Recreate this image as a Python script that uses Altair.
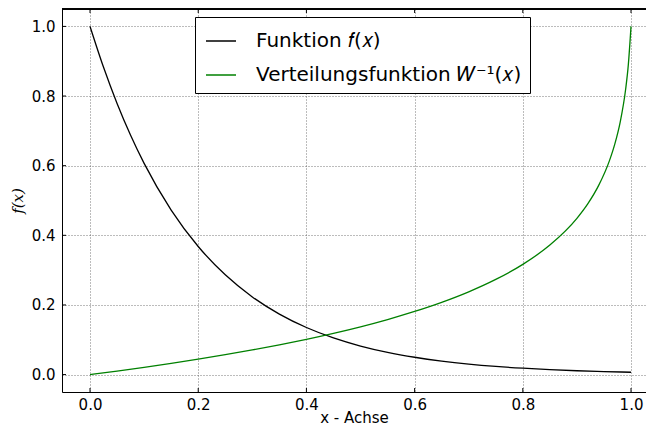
import altair as alt
import pandas as pd

# --- data ---
x_f = [0.0, 0.025, 0.05, 0.075, 0.1, 0.15, 0.2, 0.25, 0.3, 0.35, 0.4, 0.45, 0.5,
       0.55, 0.6, 0.65, 0.7, 0.75, 0.8, 0.85, 0.9, 0.95, 1.0]
y_f = [1.0, 0.8825, 0.7788, 0.6873, 0.6065, 0.4724, 0.3679, 0.2865, 0.2231, 0.1738,
       0.1353, 0.1054, 0.0821, 0.0639, 0.0498, 0.0388, 0.0302, 0.0235, 0.0183,
       0.0143, 0.0111, 0.0087, 0.0067]

x_w = [0.0, 0.05, 0.1, 0.15, 0.2, 0.25, 0.3, 0.35, 0.4, 0.45, 0.5, 0.55, 0.6, 0.65,
       0.7, 0.75, 0.8, 0.85, 0.9, 0.92, 0.94, 0.96, 0.97, 0.98, 0.99, 0.995, 1.0]
y_w = [0.0, 0.0102, 0.0209, 0.0323, 0.0443, 0.0571, 0.0708, 0.0854, 0.1013, 0.1185,
       0.1373, 0.1581, 0.1813, 0.2075, 0.2377, 0.2733, 0.3166, 0.3719, 0.4487,
       0.4902, 0.5426, 0.6138, 0.6619, 0.7253, 0.8188, 0.8895, 1.0]

series_names = ["Funktion 𝑓(𝑥)", "Verteilungsfunktion 𝑊⁻¹(𝑥)"]
series_colors = ["#000000", "#008000"]

x_ticks = [0.0, 0.2, 0.4, 0.6, 0.8, 1.0]
y_ticks = [0.0, 0.2, 0.4, 0.6, 0.8, 1.0]

df = pd.concat([
    pd.DataFrame({"x": x_f, "y": y_f, "s": series_names[0], "o": range(len(x_f))}),
    pd.DataFrame({"x": x_w, "y": y_w, "s": series_names[1], "o": range(len(x_w))}),
])

W, H = 584, 383
xscale = alt.Scale(domain=[-0.0518, 1.0277], nice=False, zero=False)
yscale = alt.Scale(domain=[-0.05, 1.05], nice=False, zero=False)

grid_common = dict(grid=True, gridColor="#444444", gridDash=[1, 2], gridWidth=0.8,
                   gridOpacity=0.9, ticks=False, tickSize=0, domainColor="black",
                   domainWidth=1, labelFont="DejaVu Sans", labelFontSize=15,
                   labelColor="black", titleFontWeight="normal", titleColor="black",
                   format=".1f")

xaxis = alt.Axis(values=x_ticks, labelPadding=5, title="x - Achse",
                 titleFont="DejaVu Sans", titleFontSize=15, titleY=30,
                 titleBaseline="alphabetic", **grid_common)
yaxis = alt.Axis(values=y_ticks, labelPadding=7, title="f(x)",
                 titleFont="DejaVu Serif", titleFontStyle="italic", titleFontSize=15,
                 titleX=-45, titleY=H / 2, titleAngle=-90, titleAlign="center",
                 titleBaseline="middle", **grid_common)

lines = alt.Chart(df).mark_line(strokeWidth=1.3, interpolate="monotone").encode(
    x=alt.X("x:Q", scale=xscale, axis=xaxis),
    y=alt.Y("y:Q", scale=yscale, axis=yaxis),
    order="o:Q",
    color=alt.Color("s:N", scale=alt.Scale(domain=series_names, range=series_colors),
                    legend=alt.Legend(title=None, orient="none", legendX=133, legendY=8,
                                      direction="vertical", symbolType="stroke",
                                      symbolSize=900, symbolStrokeWidth=1.5,
                                      symbolOffset=2,
                                      labelFont="DejaVu Sans", labelFontSize=20,
                                      labelColor="black", padding=8, rowPadding=8,
                                      strokeColor="black", fillColor="white",
                                      labelOffset=19, cornerRadius=0,
                                      labelLimit=400)),
)

xt = pd.DataFrame({"t": x_ticks})
yt = pd.DataFrame({"t": y_ticks})

xt_bottom = alt.Chart(xt).mark_rule(color="black", strokeWidth=1).encode(
    x=alt.X("t:Q", scale=xscale, axis=xaxis), y=alt.value(H), y2=alt.value(H - 4))
xt_top = alt.Chart(xt).mark_rule(color="black", strokeWidth=1).encode(
    x=alt.X("t:Q", scale=xscale, axis=xaxis), y=alt.value(0), y2=alt.value(4))
yt_left = alt.Chart(yt).mark_rule(color="black", strokeWidth=1).encode(
    y=alt.Y("t:Q", scale=yscale, axis=yaxis), x=alt.value(0), x2=alt.value(4))
top_frame = alt.Chart(xt).mark_rule(color="black", strokeWidth=1).encode(
    y=alt.value(0), x=alt.value(0), x2=alt.value(W))

chart = alt.layer(lines, xt_bottom, xt_top, yt_left, top_frame).properties(
    width=W, height=H,
    autosize=alt.AutoSizeParams(type="none"),
    padding={"left": 54, "top": 1, "right": 0, "bottom": 34},
).configure_view(stroke=None).configure(background="white")

chart.save("out.html", embed_options={"renderer": "svg", "actions": False})
